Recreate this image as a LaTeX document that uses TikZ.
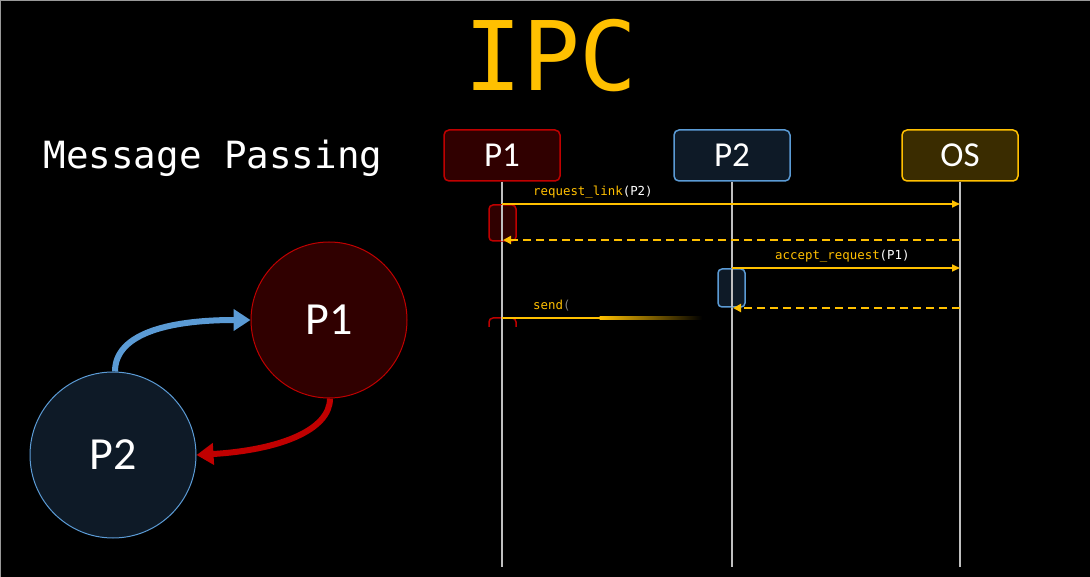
\documentclass[tikz,border=0pt]{standalone}
\usepackage{fontspec}
\newfontfamily\monofont{DejaVu Sans Mono}
\newfontfamily\calfont{Carlito}
\usetikzlibrary{arrows.meta}
\definecolor{ipcyellow}{HTML}{FFC000}
\definecolor{ipcred}{HTML}{C00000}
\definecolor{ipcdarkred}{HTML}{300000}
\definecolor{ipcblue}{HTML}{5B9BD5}
\definecolor{ipcdarkblue}{HTML}{0E1A27}
\definecolor{ipcdarkyellow}{HTML}{3A2C00}
\definecolor{lifegray}{HTML}{BFBFBF}
\tikzset{
  hdr/.style={draw, line width=1.5pt, rounded corners=5pt, minimum width=116pt, minimum height=51pt, inner sep=0pt, text=white, font=\calfont\fontsize{35}{35}\selectfont},
  hdrred/.style={hdr, fill=ipcdarkred, draw=ipcred},
  hdrblue/.style={hdr, fill=ipcdarkblue, draw=ipcblue},
  hdryellow/.style={hdr, fill=ipcdarkyellow, draw=ipcyellow},
  lifeline/.style={draw=lifegray, line width=1.2pt},
  msg/.style={draw=ipcyellow, line width=1.6pt, -{Triangle[length=8pt,width=7pt]}},
  ret/.style={draw=ipcyellow, line width=2.4pt, dash pattern=on 8pt off 5pt, -{Triangle[length=8pt,width=8pt]}},
  actred/.style={draw=ipcred, fill=ipcdarkred, line width=1.5pt, rounded corners=4pt, minimum width=27pt, inner sep=0pt},
  actblue/.style={draw=ipcblue, fill=ipcdarkblue, line width=1.5pt, rounded corners=4pt, minimum width=27pt, inner sep=0pt},
  lbl/.style={font=\monofont\fontsize{12.4}{12.4}\selectfont, inner sep=0pt, anchor=west},
  proc/.style={circle, inner sep=0pt, line width=1pt, text=white, font=\calfont\fontsize{46}{46}\selectfont},
  bigarrow/.style={line width=6pt, -{Triangle[length=17pt,width=21pt]}},
}
\begin{document}
\begin{tikzpicture}[x=1pt,y=-1pt]
\fill[black] (0,0) rectangle (1090,577);
\useasboundingbox (0,0) rectangle (1090,577);
\draw[gray!80, line width=1.2pt] (0,577) -- (0,0.6) -- (1090,0.6);

% Title
\node[text=ipcyellow, font=\monofont\fontsize{96}{96}\selectfont, inner sep=0pt] (title) at (551,56) {IPC};
\node[text=white, font=\monofont\fontsize{37.5}{37.5}\selectfont, inner sep=0pt] (mp) at (213,158) {Message Passing};

% Sequence headers
\node[hdrred] (h1) at (502,155.5) {P1};
\node[hdrblue] (h2) at (732,155.5) {P2};
\node[hdryellow] (h3) at (960,155.5) {OS};

\coordinate (e1) at (502,567);
\coordinate (e2) at (732,567);
\coordinate (e3) at (960,567);
\draw[lifeline] (h1.south) -- (e1);
\draw[lifeline] (h2.south) -- (e2);
\draw[lifeline] (h3.south) -- (e3);

% activation boxes
\node[actred, minimum height=36pt] (a1) at (502.5,223) {};
\node[actblue, minimum height=38pt] (a2) at (731.5,288) {};
\draw[lifeline] (502,205) -- (502,241);
\draw[lifeline] (732,269) -- (732,307);

% messages
\coordinate (m1s) at (502,204);
\coordinate (m1e) at (960,204);
\draw[msg] (m1s) -- (m1e);
\node[lbl] (l1) at (533,192) {\textcolor{ipcyellow}{request\_link}\textcolor{white}{(P2)}};

\coordinate (r1s) at (960,240);
\coordinate (r1e) at (503,240);
\draw[ret] (r1s) -- (r1e);

\coordinate (m2s) at (732,268);
\coordinate (m2e) at (960,268);
\draw[msg] (m2s) -- (m2e);
\node[lbl] (l2) at (775,256) {\textcolor{ipcyellow}{accept\_request}\textcolor{white}{(P1)}};

\coordinate (r2s) at (960,308);
\coordinate (r2e) at (733,308);
\draw[ret] (r2s) -- (r2e);

% partial send
\node[lbl] (l3) at (533,306) {\textcolor{ipcyellow}{send}\textcolor{gray}{(}};
\begin{scope}
\clip (480,317) rectangle (530,327);
\draw[draw=ipcred, line width=1.5pt, rounded corners=4pt] (489,318) rectangle (516,360);
\end{scope}
\draw[lifeline] (502,317) -- (502,330);
\fill[ipcyellow] (502,317) rectangle (600,319.4);
\shade[left color=ipcyellow, right color=black, shading angle=90] (599.5,317) rectangle (702,319.4);

% left diagram
\node[proc, fill=ipcdarkred, draw=ipcred, minimum size=156pt] (c1) at (329,320) {P1};
\node[proc, fill=ipcdarkblue, draw=ipcblue, minimum size=166pt] (c2) at (113,455) {P2};

\draw[bigarrow, draw=ipcblue] (c2.north) ++(2,0) .. controls (115,335) and (165,320) .. (c1.west);
\draw[bigarrow, draw=ipcred] (c1.south) ++(1,0) .. controls (330,430) and (280,450) .. (c2.east);
\end{tikzpicture}
\end{document}
